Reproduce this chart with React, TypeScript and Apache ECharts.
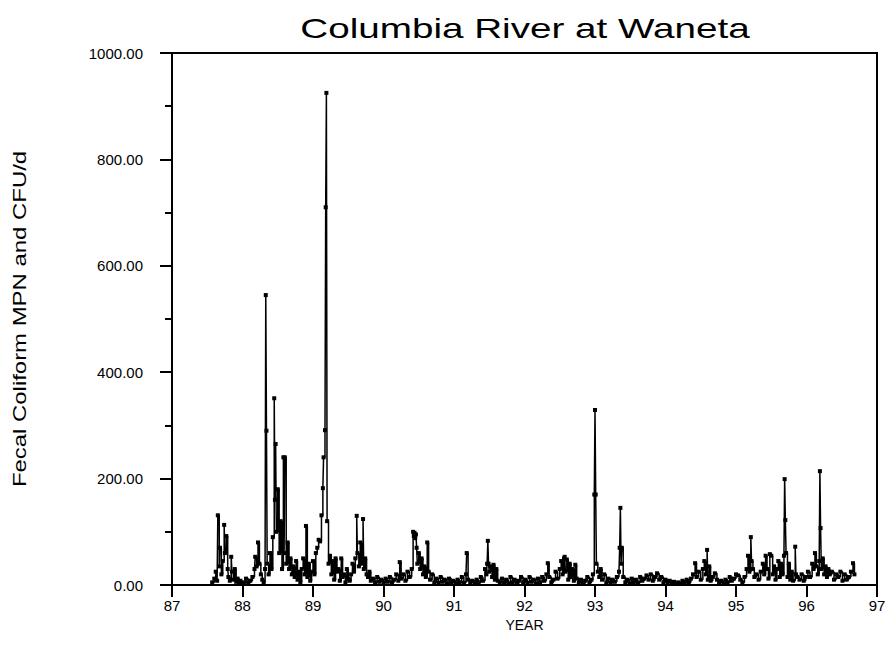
import React, { useEffect, useRef } from "react";
import * as echarts from "echarts";

const title = "Columbia River at Waneta";
const yName = "Fecal Coliform MPN and CFU/d";
const xName = "YEAR";
const xTicks = [87, 88, 89, 90, 91, 92, 93, 94, 95, 96, 97];
const yTicks = [0, 200, 400, 600, 800, 1000];

const d87: number[][] = [
  [87.57, 5], [87.6, 12], [87.62, 25], [87.64, 8], [87.65, 131], [87.67, 35], [87.68, 70], [87.7, 20],
  [87.72, 45], [87.74, 113], [87.75, 60], [87.77, 92], [87.79, 30], [87.8, 15], [87.82, 8], [87.84, 53],
  [87.85, 25], [87.87, 10], [87.89, 30], [87.91, 6], [87.93, 12], [87.95, 4], [87.97, 8], [87.99, 3],
];
const d88: number[][] = [
  [88.02, 5], [88.05, 12], [88.08, 4], [88.11, 8], [88.14, 15], [88.17, 30], [88.18, 53], [88.2, 35],
  [88.22, 80], [88.24, 40], [88.26, 20], [88.28, 10], [88.3, 5], [88.32, 30], [88.33, 545], [88.34, 290],
  [88.35, 40], [88.37, 20], [88.39, 60], [88.41, 30], [88.43, 90], [88.45, 351], [88.46, 160], [88.47, 265],
  [88.48, 100], [88.5, 180], [88.52, 60], [88.54, 120], [88.56, 30], [88.58, 240], [88.59, 60], [88.6, 240],
  [88.62, 40], [88.64, 80], [88.66, 30], [88.68, 50], [88.7, 20], [88.72, 35], [88.74, 15], [88.76, 45],
  [88.78, 10], [88.8, 25], [88.82, 5], [88.84, 30], [88.86, 50], [88.88, 20], [88.9, 111], [88.92, 15],
  [88.94, 40], [88.96, 8], [88.98, 25],
];
const d89: number[][] = [
  [89.0, 45], [89.02, 20], [89.04, 60], [89.06, 70], [89.08, 85], [89.1, 82], [89.12, 131], [89.14, 182],
  [89.15, 240], [89.17, 291], [89.18, 710], [89.19, 925], [89.2, 120], [89.22, 40], [89.24, 55], [89.26, 20],
  [89.28, 45], [89.3, 10], [89.32, 50], [89.34, 25], [89.36, 30], [89.38, 8], [89.4, 50], [89.42, 15],
  [89.44, 20], [89.46, 5], [89.48, 30], [89.5, 12], [89.52, 8], [89.54, 20], [89.56, 40], [89.58, 25],
  [89.6, 50], [89.62, 130], [89.63, 60], [89.65, 35], [89.67, 80], [89.69, 40], [89.71, 124], [89.72, 30],
  [89.74, 50], [89.76, 20], [89.78, 15], [89.8, 25], [89.82, 8], [89.85, 12], [89.88, 5], [89.91, 15],
  [89.94, 6], [89.97, 10],
];
const d90: number[][] = [
  [90.0, 4], [90.03, 12], [90.06, 6], [90.09, 15], [90.12, 5], [90.15, 10], [90.18, 20], [90.21, 8],
  [90.23, 43], [90.25, 12], [90.28, 20], [90.31, 8], [90.34, 25], [90.37, 15], [90.4, 30], [90.42, 100],
  [90.43, 92], [90.44, 98], [90.45, 88], [90.46, 95], [90.47, 70], [90.48, 40], [90.5, 60], [90.52, 30],
  [90.54, 50], [90.56, 20], [90.58, 35], [90.6, 15], [90.62, 80], [90.64, 25], [90.66, 10], [90.69, 20],
  [90.72, 5], [90.75, 12], [90.78, 4], [90.81, 15], [90.84, 6], [90.87, 10], [90.9, 3], [90.93, 12],
  [90.96, 5], [90.99, 8],
];
const d91: number[][] = [
  [91.02, 3], [91.05, 10], [91.08, 5], [91.11, 15], [91.14, 4], [91.17, 20], [91.18, 60], [91.2, 10],
  [91.23, 5], [91.26, 8], [91.29, 3], [91.32, 10], [91.35, 5], [91.38, 15], [91.41, 8], [91.44, 30],
  [91.46, 20], [91.47, 40], [91.48, 83], [91.49, 40], [91.5, 25], [91.52, 35], [91.54, 15], [91.56, 38],
  [91.58, 10], [91.6, 30], [91.62, 8], [91.65, 5], [91.68, 12], [91.71, 4], [91.74, 10], [91.77, 3],
  [91.8, 15], [91.83, 5], [91.86, 10], [91.89, 3], [91.92, 8], [91.95, 15], [91.98, 5],
];
const d92: number[][] = [
  [92.01, 10], [92.04, 4], [92.07, 15], [92.1, 6], [92.13, 10], [92.16, 3], [92.19, 12], [92.22, 5],
  [92.25, 15], [92.28, 8], [92.31, 20], [92.33, 41], [92.35, 15], [92.38, 5], [92.41, 10], [92.44, 25],
  [92.47, 12], [92.5, 30], [92.52, 45], [92.54, 20], [92.56, 50], [92.57, 53], [92.58, 25], [92.6, 48],
  [92.62, 10], [92.64, 40], [92.66, 15], [92.68, 30], [92.7, 8], [92.72, 38], [92.74, 12], [92.77, 5],
  [92.8, 10], [92.83, 3], [92.86, 8], [92.89, 15], [92.92, 5], [92.95, 10], [92.97, 20], [92.99, 170],
  [93.0, 329],
];
const d93: number[][] = [
  [93.01, 170], [93.02, 40], [93.04, 25], [93.06, 15], [93.08, 30], [93.1, 10], [93.13, 20], [93.16, 5],
  [93.19, 12], [93.22, 4], [93.25, 10], [93.28, 6], [93.31, 15], [93.34, 25], [93.35, 70], [93.36, 145],
  [93.37, 40], [93.38, 70], [93.4, 15], [93.43, 5], [93.46, 10], [93.49, 3], [93.52, 12], [93.55, 5],
  [93.58, 10], [93.61, 4], [93.64, 15], [93.67, 8], [93.7, 12], [93.73, 18], [93.76, 10], [93.79, 20],
  [93.82, 8], [93.85, 15], [93.88, 22], [93.91, 10], [93.94, 15], [93.97, 5],
];
const d94: number[][] = [
  [94.0, 10], [94.03, 4], [94.06, 8], [94.09, 3], [94.12, 6], [94.15, 2], [94.18, 5], [94.21, 3],
  [94.24, 8], [94.27, 4], [94.3, 10], [94.33, 5], [94.36, 12], [94.39, 20], [94.42, 41], [94.44, 15],
  [94.47, 25], [94.5, 10], [94.53, 30], [94.55, 45], [94.57, 20], [94.59, 66], [94.6, 10], [94.62, 35],
  [94.64, 8], [94.67, 15], [94.7, 22], [94.73, 10], [94.76, 5], [94.79, 8], [94.82, 3], [94.85, 10],
  [94.88, 5], [94.91, 15], [94.94, 8], [94.97, 12],
];
const d95: number[][] = [
  [95.0, 20], [95.03, 18], [95.06, 10], [95.09, 5], [95.12, 15], [95.15, 30], [95.17, 55], [95.19, 25],
  [95.21, 90], [95.22, 45], [95.24, 30], [95.26, 15], [95.29, 20], [95.32, 10], [95.35, 25], [95.38, 40],
  [95.4, 20], [95.42, 55], [95.44, 30], [95.46, 12], [95.48, 58], [95.5, 55], [95.52, 20], [95.54, 35],
  [95.56, 10], [95.58, 30], [95.6, 45], [95.62, 15], [95.64, 40], [95.66, 20], [95.68, 55], [95.69, 199],
  [95.7, 122], [95.71, 60], [95.73, 15], [95.75, 40], [95.77, 10], [95.79, 25], [95.81, 8], [95.84, 72],
  [95.85, 20], [95.87, 15], [95.9, 10], [95.93, 20], [95.96, 8], [95.99, 15],
];
const d96: number[][] = [
  [96.02, 25], [96.05, 15], [96.08, 40], [96.1, 30], [96.12, 60], [96.14, 35], [96.16, 20], [96.18, 45],
  [96.19, 214], [96.2, 107], [96.21, 30], [96.23, 50], [96.25, 20], [96.27, 35], [96.29, 15], [96.31, 30],
  [96.33, 20], [96.36, 25], [96.39, 10], [96.42, 20], [96.45, 15], [96.48, 25], [96.51, 8], [96.54, 20],
  [96.57, 10], [96.6, 15], [96.63, 25], [96.66, 41], [96.68, 20],
];

const seriesData = [...d87, ...d88, ...d89, ...d90, ...d91, ...d92, ...d93, ...d94, ...d95, ...d96];

export default function App() {
  const ref = useRef<HTMLDivElement>(null);
  useEffect(() => {
    document.body.style.margin = "0";
    const chart = echarts.init(ref.current!, null, { renderer: "svg" });
    const font = "Liberation Sans";
    chart.setOption({
      animation: false,
      backgroundColor: "#fff",
      graphic: [
        {
          type: "text",
          x: 525,
          y: 28,
          scaleX: 1.38,
          style: {
            text: title,
            fontFamily: font,
            fontSize: 28,
            fill: "#000",
            textAlign: "center",
            textVerticalAlign: "middle",
          },
        },
        {
          type: "text",
          x: 20,
          y: 319,
          rotation: Math.PI / 2,
          scaleX: 1.33,
          style: {
            text: yName,
            fontFamily: font,
            fontSize: 18,
            fill: "#000",
            textAlign: "center",
            textVerticalAlign: "middle",
          },
        },
      ],
      grid: {
        left: 172,
        right: 13,
        top: 53,
        bottom: 73,
        show: true,
        borderColor: "#000",
        borderWidth: 2,
        backgroundColor: "transparent",
      },
      xAxis: {
        type: "value",
        min: xTicks[0],
        max: xTicks[xTicks.length - 1],
        interval: 1,
        name: xName,
        nameLocation: "middle",
        nameGap: 29,
        nameTextStyle: { fontFamily: font, fontSize: 14, color: "#000" },
        axisLine: { lineStyle: { color: "#000", width: 2 } },
        axisTick: { show: true, length: 12, lineStyle: { color: "#000", width: 2 } },
        axisLabel: { fontFamily: font, fontSize: 15, color: "#000", margin: 13, formatter: (v: number) => String(v) },
        splitLine: { show: false },
      },
      yAxis: {
        type: "value",
        min: yTicks[0],
        max: yTicks[yTicks.length - 1],
        interval: 200,
        axisLine: { lineStyle: { color: "#000", width: 2 } },
        axisTick: { show: true, length: 12, lineStyle: { color: "#000", width: 2 } },
        minorTick: { show: true, splitNumber: 2, length: 7, lineStyle: { color: "#000", width: 2 } },
        axisLabel: { fontFamily: font, fontSize: 15, color: "#000", margin: 29, formatter: (v: number) => v.toFixed(2) },
        splitLine: { show: false },
      },
      series: [
        {
          type: "line",
          data: seriesData,
          step: "end",
          symbol: "rect",
          symbolSize: 4,
          showAllSymbol: true,
          itemStyle: { color: "#000" },
          lineStyle: { color: "#000", width: 1.5 },
        },
      ],
    });
    return () => chart.dispose();
  }, []);
  return <div ref={ref} style={{ width: 890, height: 658 }} />;
}
